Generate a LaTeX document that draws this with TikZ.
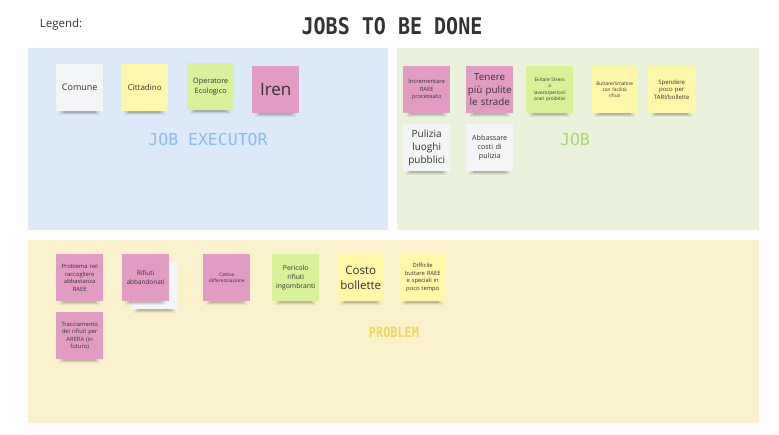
\documentclass[tikz,border=0pt]{standalone}
\usepackage{fontspec}
\setmainfont{Open Sans}
\newfontfamily\monofont{DejaVu Sans Mono}
\definecolor{pblue}{HTML}{DCE9F8}
\definecolor{pgreen}{HTML}{EAF2DC}
\definecolor{pyellow}{HTML}{F9F2CD}
\definecolor{npink}{HTML}{E29CC3}
\definecolor{nyellow}{HTML}{FDF7A9}
\definecolor{ngreen}{HTML}{D9F199}
\definecolor{nwhite}{HTML}{F4F5F7}
\definecolor{tdark}{HTML}{333333}
\definecolor{tblue}{HTML}{8DBBEF}
\definecolor{tgreen}{HTML}{A9D872}
\definecolor{tyellow}{HTML}{F2D35C}
\tikzset{
  panel/.style={draw=none},
  note/.style={anchor=north west, minimum width=47pt, minimum height=47pt, text width=45pt,
    inner sep=1pt, align=center, text=tdark},
  paneltitle/.style={font=\monofont},
}
\newcommand\shadowat[2]{%
  \fill[black,opacity=0.06] (#1+3,#2+43) rectangle (#1+44,#2+51);
  \fill[black,opacity=0.08] (#1+5,#2+45) rectangle (#1+42,#2+50);
  \fill[black,opacity=0.12] (#1+7,#2+46) rectangle (#1+40,#2+49);
}
\newcommand\stickynote[6]{%
  \shadowat{#2}{#3}
  \node[note, fill=#4, font=\fontsize{#5pt}{\dimexpr #5pt*13/10\relax}\selectfont] (#1) at (#2,#3) {#6};
}
\begin{document}
\begin{tikzpicture}[x=1pt,y=-1pt]
\useasboundingbox[fill=white] (0,0) rectangle (779,434);
% panels
\fill[pblue] (28,48) rectangle (388,230);
\fill[pgreen] (397,48) rectangle (759,230);
\fill[pyellow] (28,240) rectangle (759,423);
% titles
\node[font=\fontsize{11.5}{14}\selectfont, text=tdark] (legend) at (61,25) {Legend:};
\node[font=\monofont\bfseries\fontsize{23}{26}\selectfont, text=tdark, xscale=0.87] (title) at (392,26) {JOBS TO BE DONE};
\node[paneltitle, font=\monofont\fontsize{16.5}{20}\selectfont, text=tblue] (execT) at (208,139) {JOB EXECUTOR};
\node[paneltitle, font=\monofont\fontsize{16.5}{20}\selectfont, text=tgreen] (jobT) at (575,139) {JOB};
\node[paneltitle, font=\monofont\bfseries\fontsize{14}{16}\selectfont, text=tyellow, xscale=0.85] (probT) at (394,332) {PROBLEM};
% job executor notes
\stickynote{comune}{56}{64}{nwhite}{9}{Comune}
\stickynote{cittadino}{121}{64}{nyellow}{8}{Cittadino}
\stickynote{operatore}{187}{63}{ngreen}{7.3}{Operatore\\Ecologico}
\stickynote{iren}{252}{66}{npink}{17}{Iren}
% job notes
\stickynote{raee}{403}{66}{npink}{5.8}{Incrementare\\RAEE\\processato}
\stickynote{strade}{466}{66}{npink}{9.8}{Tenere\\più pulite\\le strade}
\stickynote{stress}{526}{66}{ngreen}{4.8}{Evitare Stress\\a\\lavoro/pericoli\\orari proibitivi}
\stickynote{buttare}{591}{66}{nyellow}{4.8}{Buttare/Smaltire\\con facilità\\rifiuti}
\stickynote{tari}{648}{66}{nyellow}{6}{Spendere\\poco per\\TARI/bollette}
\stickynote{pulizia}{403}{124}{nwhite}{10}{Pulizia\\luoghi\\pubblici}
\stickynote{costi}{466}{124}{nwhite}{7.2}{Abbassare\\costi di\\pulizia}
% problem notes
\stickynote{back}{131}{262}{nwhite}{6}{}
\stickynote{problema}{56}{254}{npink}{5.8}{Problema nel\\raccogliere\\abbastanza\\RAEE}
\stickynote{abbandonati}{122}{254}{npink}{6.4}{Rifiuti\\abbandonati}
\stickynote{cattiva}{203}{254}{npink}{4.8}{Cattiva\\differenziazione}
\stickynote{pericolo}{272}{254}{ngreen}{6.8}{Pericolo\\rifiuti\\ingombranti}
\stickynote{costo}{337}{254}{nyellow}{11.5}{Costo\\bollette}
\stickynote{difficile}{399}{254}{nyellow}{5.8}{Difficile\\buttare RAEE\\e speciali in\\poco tempo}
\stickynote{tracciamento}{56}{312}{npink}{5.8}{Tracciamento\\dei rifiuti per\\ARERA (in\\futuro)}
\end{tikzpicture}
\end{document}
